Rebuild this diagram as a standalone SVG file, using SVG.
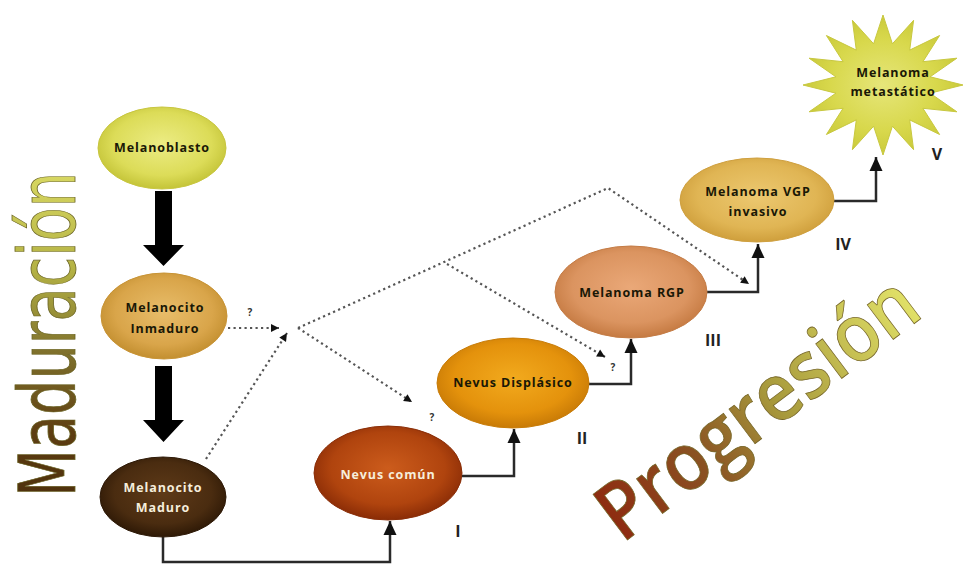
<svg xmlns="http://www.w3.org/2000/svg" width="979" height="565" viewBox="0 0 979 565">
<defs>
  <radialGradient id="gBlasto" cx="50%" cy="45%" r="55%"><stop offset="0" stop-color="#ecec84"/><stop offset="0.7" stop-color="#dcdc58"/><stop offset="1" stop-color="#c4c438"/></radialGradient>
  <radialGradient id="gInm" cx="50%" cy="45%" r="55%"><stop offset="0" stop-color="#e8bd6a"/><stop offset="0.7" stop-color="#d9a54a"/><stop offset="1" stop-color="#c38f30"/></radialGradient>
  <radialGradient id="gMad" cx="50%" cy="45%" r="55%"><stop offset="0" stop-color="#5e3a18"/><stop offset="0.7" stop-color="#4a2c10"/><stop offset="1" stop-color="#2e1906"/></radialGradient>
  <radialGradient id="gComun" cx="50%" cy="45%" r="55%"><stop offset="0" stop-color="#cc5c1c"/><stop offset="0.7" stop-color="#b0440e"/><stop offset="1" stop-color="#8a2c06"/></radialGradient>
  <radialGradient id="gDisp" cx="50%" cy="45%" r="55%"><stop offset="0" stop-color="#f2aa1e"/><stop offset="0.7" stop-color="#e4920c"/><stop offset="1" stop-color="#c87a06"/></radialGradient>
  <radialGradient id="gRGP" cx="50%" cy="45%" r="55%"><stop offset="0" stop-color="#eaa878"/><stop offset="0.7" stop-color="#db9460"/><stop offset="1" stop-color="#c57a42"/></radialGradient>
  <radialGradient id="gVGP" cx="50%" cy="45%" r="55%"><stop offset="0" stop-color="#ecc870"/><stop offset="0.7" stop-color="#e0b554"/><stop offset="1" stop-color="#cf9f3c"/></radialGradient>
  <radialGradient id="gStar" cx="50%" cy="50%" r="55%"><stop offset="0" stop-color="#e6e67a"/><stop offset="0.6" stop-color="#d8d84c"/><stop offset="1" stop-color="#c6c636"/></radialGradient>
  <linearGradient id="gMadTxt" x1="0" y1="0" x2="1" y2="0"><stop offset="0" stop-color="#4e300c"/><stop offset="0.2" stop-color="#5e3e12"/><stop offset="0.45" stop-color="#80722c"/><stop offset="0.7" stop-color="#b4b244"/><stop offset="1" stop-color="#d8d862"/></linearGradient>
  <linearGradient id="gProgTxt" x1="0" y1="0" x2="1" y2="0"><stop offset="0" stop-color="#8e2a10"/><stop offset="0.3" stop-color="#8a5222"/><stop offset="0.55" stop-color="#a89a3c"/><stop offset="1" stop-color="#e2e268"/></linearGradient>
  <marker id="ah" markerUnits="userSpaceOnUse" markerWidth="16" markerHeight="14" viewBox="0 0 16 14" refX="15" refY="7" orient="auto">
    <path d="M1,0.5 L15,7 L1,13.5 Z" fill="#111"/>
  </marker>
  <marker id="dh" markerUnits="userSpaceOnUse" markerWidth="10" markerHeight="10" viewBox="0 0 10 10" refX="9" refY="5" orient="auto">
    <path d="M1,1 L9,5 L1,9 Z" fill="#111"/>
  </marker>
  <style>
    .lbl { font-family: "Open Sans", "DejaVu Sans", sans-serif; font-weight: bold; font-size: 12.5px; text-anchor: middle; fill: #1a1806; letter-spacing: 0.9px; }
    .lblw { fill: #f6eedc; }
    .num { font-family: "Open Sans", "DejaVu Sans", sans-serif; font-weight: bold; font-size: 16px; text-anchor: middle; fill: #222; }
    .q { font-family: "Open Sans", "DejaVu Sans", sans-serif; font-weight: bold; font-size: 10px; text-anchor: middle; fill: #333; }
    .solid { fill: none; stroke: #2a2a2a; stroke-width: 2.5; }
    .dot { fill: none; stroke: #555; stroke-width: 2.2; stroke-dasharray: 2.2 3.3; }
  </style>
</defs>
<rect width="979" height="565" fill="#ffffff"/>

<!-- Big labels -->
<text transform="translate(75,497) rotate(-90)" font-family="'DejaVu Sans', sans-serif" font-size="78" textLength="325" lengthAdjust="spacingAndGlyphs" fill="url(#gMadTxt)" stroke="#6a6424" stroke-width="0.8">Maduración</text>
<text transform="translate(622,544) rotate(-37)" font-family="'Open Sans', sans-serif" font-weight="600" font-size="80" textLength="380" lengthAdjust="spacingAndGlyphs" fill="url(#gProgTxt)" stroke="#766628" stroke-width="0.8">Progresión</text>

<!-- Big black arrows -->
<g id="bigArrows" fill="#000">
  <path d="M155,191 L172,191 L172,245 L184,245 L163.5,266 L143,245 L155,245 Z"/>
  <path d="M155,366 L172,366 L172,420 L184,420 L163.5,442 L143,420 L155,420 Z"/>
</g>

<!-- Connectors -->
<g id="connectors">
  <path class="solid" d="M163,537 V562 H390 V521" marker-end="url(#ah)"/>
  <path class="solid" d="M462,476 H514 V429" marker-end="url(#ah)"/>
  <path class="solid" d="M589,384 H631 V339" marker-end="url(#ah)"/>
  <path class="solid" d="M707,292 H758 V244" marker-end="url(#ah)"/>
  <path class="solid" d="M833,201 H876 V157" marker-end="url(#ah)"/>

  <path class="dot" d="M228,328 H279" marker-end="url(#dh)"/>
  <path class="dot" d="M206,459 L287,333" marker-end="url(#dh)"/>
  <path class="dot" d="M298,328 L608,188 L749,284" marker-end="url(#dh)"/>
  <path class="dot" d="M298,328 L412,402" marker-end="url(#dh)"/>
  <path class="dot" d="M447,264 L605,357" marker-end="url(#dh)"/>
  <text class="q" x="250" y="316">?</text>
  <text class="q" x="432" y="421">?</text>
  <text class="q" x="613" y="371">?</text>
</g>

<!-- Nodes -->
<g id="melanoblasto">
  <ellipse cx="162" cy="148" rx="64" ry="41" fill="url(#gBlasto)" stroke="#c8c640" stroke-width="1"/>
  <text class="lbl" x="162" y="152">Melanoblasto</text>
</g>
<g id="melanocito-inmaduro">
  <ellipse cx="164" cy="316" rx="63" ry="43" fill="url(#gInm)" stroke="#c89436" stroke-width="1"/>
  <text class="lbl" x="165" y="312">Melanocito</text>
  <text class="lbl" x="165" y="333">Inmaduro</text>
</g>
<g id="melanocito-maduro">
  <ellipse cx="163" cy="497" rx="63" ry="40" fill="url(#gMad)" stroke="#2e1a08" stroke-width="1"/>
  <text class="lbl lblw" x="163" y="492">Melanocito</text>
  <text class="lbl lblw" x="163" y="512">Maduro</text>
</g>
<g id="nevus-comun">
  <ellipse cx="388" cy="473" rx="74" ry="47" fill="url(#gComun)" stroke="#8a2e08" stroke-width="1"/>
  <text class="lbl lblw" x="388" y="479">Nevus común</text>
</g>
<g id="nevus-displasico">
  <ellipse cx="513" cy="383" rx="76" ry="45" fill="url(#gDisp)" stroke="#c87c08" stroke-width="1"/>
  <text class="lbl" x="513" y="387">Nevus Displásico</text>
</g>
<g id="melanoma-rgp">
  <ellipse cx="631" cy="292" rx="76" ry="46" fill="url(#gRGP)" stroke="#c47c46" stroke-width="1"/>
  <text class="lbl" x="632" y="297">Melanoma RGP</text>
</g>
<g id="melanoma-vgp">
  <ellipse cx="757" cy="200" rx="77" ry="42" fill="url(#gVGP)" stroke="#cfa040" stroke-width="1"/>
  <text class="lbl" x="758" y="196">Melanoma VGP</text>
  <text class="lbl" x="758" y="216">invasivo</text>
</g>
<g id="melanoma-metastatico">
  <polygon fill="url(#gStar)" stroke="#c8c840" stroke-width="1" points="883,155 873.6,126.2 852.4,149.7 856.3,119.9 826.4,134.5 843.1,108.3 809.1,111.8 835.9,93.2 803,85 835.9,76.8 809.1,58.2 843.1,61.7 826.4,35.5 856.3,50.1 852.4,20.3 873.6,43.8 883,15 892.4,43.8 913.6,20.3 909.7,50.1 939.6,35.5 922.9,61.7 956.9,58.2 930.1,76.8 963,85 930.1,93.2 956.9,111.8 922.9,108.3 939.6,134.5 909.7,119.9 913.6,149.7 892.4,126.2"/>
  <text class="lbl" x="893" y="77">Melanoma</text>
  <text class="lbl" x="893" y="96">metastático</text>
</g>

<!-- Stage numerals -->
<g id="stages">
  <text class="num" x="458" y="537">I</text>
  <text class="num" x="582" y="444">II</text>
  <text class="num" x="713" y="346">III</text>
  <text class="num" x="843" y="250">IV</text>
  <text class="num" x="937" y="160">V</text>
</g>
</svg>
